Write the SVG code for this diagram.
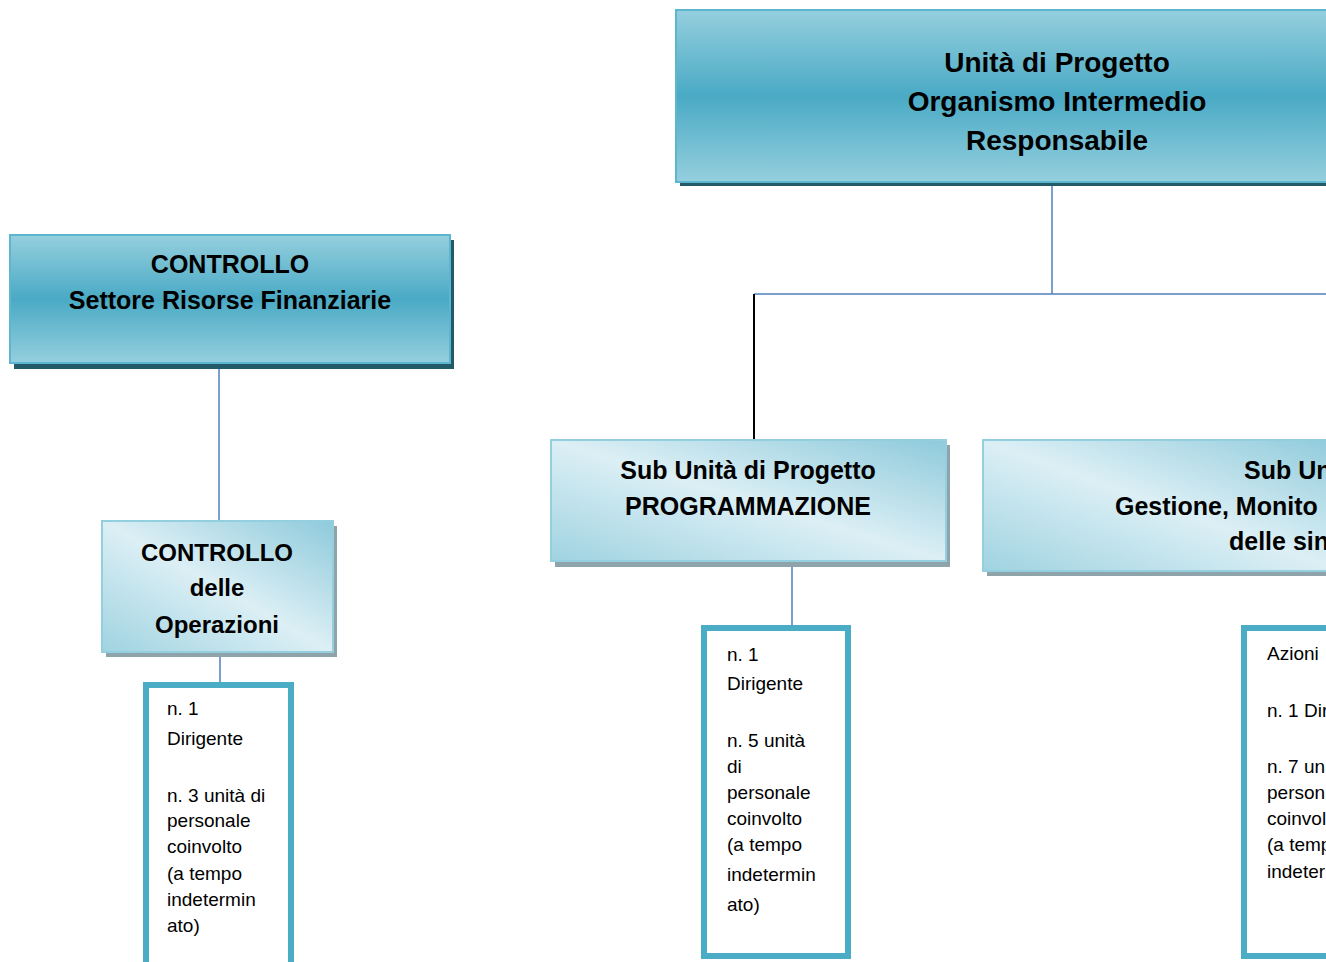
<svg xmlns="http://www.w3.org/2000/svg" width="1326" height="962" viewBox="0 0 1326 962">
<defs>
<linearGradient id="gDark" x1="0" y1="0" x2="0" y2="1">
<stop offset="0" stop-color="#95cfde"/>
<stop offset="0.5" stop-color="#4aaac5"/>
<stop offset="1" stop-color="#95cfde"/>
</linearGradient>
<linearGradient id="gLight" x1="1" y1="0" x2="0" y2="1">
<stop offset="0" stop-color="#8ecadb"/>
<stop offset="0.5" stop-color="#dceff5"/>
<stop offset="1" stop-color="#9fd3e1"/>
</linearGradient>
<style>
.bold{font-family:"Liberation Sans",Arial,sans-serif;font-weight:bold;fill:#000;text-anchor:middle}
.reg{font-family:"Liberation Sans",Arial,sans-serif;font-size:19px;fill:#000}
.darkbox{fill:url(#gDark);stroke:#5db6cf;stroke-width:2}
.lightbox{fill:url(#gLight);stroke:#93cfdf;stroke-width:2}
.shDark{fill:#225a69}
.shLight{fill:#8fa3ab}
.info{fill:#fff;stroke:#4bacc6;stroke-width:6}
.conn{stroke:#4f81bd;stroke-width:1.5;fill:none}
.connK{stroke:#000;stroke-width:2;fill:none}
</style>
</defs>
<rect width="1326" height="962" fill="#fff"/>

<g id="connectors">
<line class="conn" x1="1052" y1="182" x2="1052" y2="294"/>
<line class="conn" x1="754" y1="294" x2="1330" y2="294"/>
<line class="connK" x1="754" y1="294" x2="754" y2="440"/>
<line class="conn" x1="219" y1="363" x2="219" y2="521"/>
<line class="conn" x1="220" y1="652" x2="220" y2="682"/>
<line class="conn" x1="792" y1="561" x2="792" y2="627"/>
</g>

<g id="node-oir">
<rect class="shDark" x="680" y="14" width="660" height="172"/>
<rect class="darkbox" x="676" y="10" width="660" height="172"/>
<text class="bold" font-size="28" x="1057" y="72">Unità di Progetto</text>
<text class="bold" font-size="28" x="1057" y="111">Organismo Intermedio</text>
<text class="bold" font-size="28" x="1057" y="150">Responsabile</text>
</g>

<g id="node-controllo-srf">
<rect class="shDark" x="14" y="240" width="440" height="129"/>
<rect class="darkbox" x="10" y="235" width="440" height="128"/>
<text class="bold" font-size="25" x="230" y="273">CONTROLLO</text>
<text class="bold" font-size="25" x="230" y="309">Settore Risorse Finanziarie</text>
</g>

<g id="node-controllo-op">
<rect class="shLight" x="106" y="526" width="231" height="131"/>
<rect class="lightbox" x="102" y="521" width="231" height="131"/>
<text class="bold" font-size="24" x="217" y="561">CONTROLLO</text>
<text class="bold" font-size="24" x="217" y="596">delle</text>
<text class="bold" font-size="24" x="217" y="633">Operazioni</text>
</g>

<g id="node-info-controllo">
<rect class="info" x="146" y="685" width="145" height="300"/>
<text class="reg" x="167" y="715">n. 1</text>
<text class="reg" x="167" y="745">Dirigente</text>
<text class="reg" x="167" y="802">n. 3 unità di</text>
<text class="reg" x="167" y="827">personale</text>
<text class="reg" x="167" y="853">coinvolto</text>
<text class="reg" x="167" y="880">(a tempo</text>
<text class="reg" x="167" y="906">indetermin</text>
<text class="reg" x="167" y="932">ato)</text>
</g>

<g id="node-programmazione">
<rect class="shLight" x="555" y="445" width="395" height="122"/>
<rect class="lightbox" x="551" y="440" width="395" height="121"/>
<text class="bold" font-size="25" x="748" y="479">Sub Unità di Progetto</text>
<text class="bold" font-size="25" x="748" y="515">PROGRAMMAZIONE</text>
</g>

<g id="node-info-programmazione">
<rect class="info" x="704" y="628" width="144" height="328"/>
<text class="reg" x="727" y="661">n. 1</text>
<text class="reg" x="727" y="690">Dirigente</text>
<text class="reg" x="727" y="747">n. 5 unità</text>
<text class="reg" x="727" y="773">di</text>
<text class="reg" x="727" y="799">personale</text>
<text class="reg" x="727" y="825">coinvolto</text>
<text class="reg" x="727" y="851">(a tempo</text>
<text class="reg" x="727" y="881">indetermin</text>
<text class="reg" x="727" y="911">ato)</text>
</g>

<g id="node-gestione">
<rect class="shLight" x="987" y="445" width="360" height="131"/>
<rect class="lightbox" x="983" y="440" width="360" height="131"/>
<text class="bold" font-size="25" x="1244" y="479" style="text-anchor:start">Sub Un</text>
<text class="bold" font-size="25" x="1115" y="515" style="text-anchor:start">Gestione, Monito</text>
<text class="bold" font-size="25" x="1229" y="550" style="text-anchor:start">delle sin</text>
</g>

<g id="node-info-gestione">
<rect class="info" x="1244" y="628" width="120" height="328"/>
<text class="reg" x="1267" y="660">Azioni</text>
<text class="reg" x="1267" y="717">n. 1 Dir</text>
<text class="reg" x="1267" y="773">n. 7 un</text>
<text class="reg" x="1267" y="799">person</text>
<text class="reg" x="1267" y="825">coinvol</text>
<text class="reg" x="1267" y="851">(a temp</text>
<text class="reg" x="1267" y="878">indeter</text>
</g>
</svg>
